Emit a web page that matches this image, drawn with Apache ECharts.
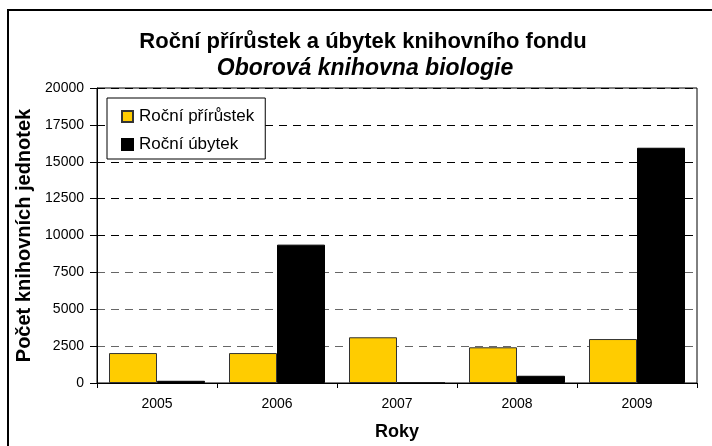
<!DOCTYPE html>
<html>
<head>
<meta charset="utf-8">
<script src="https://cdn.jsdelivr.net/npm/echarts@6/dist/echarts.min.js"></script>
<style>
  html, body { margin: 0; padding: 0; background: #fff; }
  #chart { width: 712px; height: 446px; }
</style>
</head>
<body>
<div id="chart"></div>
<script>
const years = ['2005', '2006', '2007', '2008', '2009'];
const prirustek = [2030, 2030, 3100, 2420, 2980];
const ubytek = [150, 9380, 0, 490, 15950];

const chart = echarts.init(document.getElementById('chart'));
const font = 'Arial, "Liberation Sans", sans-serif';

chart.setOption({
  backgroundColor: '#fff',
  animation: false,
  textStyle: { fontFamily: font },
  title: [
    {
      text: 'Roční přírůstek a úbytek knihovního fondu',
      left: 358,
      textAlign: 'center',
      top: 26,
      textStyle: { fontSize: 22, fontWeight: 'bold', color: '#000', fontFamily: font }
    },
    {
      text: 'Oborová knihovna biologie',
      left: 360,
      textAlign: 'center',
      top: 52,
      textStyle: { fontSize: 23, fontWeight: 'bold', fontStyle: 'italic', color: '#000', fontFamily: font }
    }
  ],
  graphic: [{
    type: 'rect',
    shape: { x: 8, y: 10, width: 720, height: 460 },
    style: { fill: 'none', stroke: '#000', lineWidth: 2 },
    z: 100
  }],
  legend: {
    orient: 'vertical',
    left: 107,
    top: 98,
    padding: [10, 11, 6, 14],
    itemGap: 11,
    itemWidth: 11,
    itemHeight: 11,
    icon: 'rect',
    borderColor: '#000',
    borderWidth: 1,
    backgroundColor: '#fff',
    textStyle: { fontSize: 17, color: '#000', fontFamily: font, padding: [0, 0, 0, 1] }
  },
  grid: {
    left: 97,
    right: 15,
    top: 88,
    bottom: 61,
    show: true,
    borderColor: '#000',
    borderWidth: 1
  },
  xAxis: {
    type: 'category',
    data: years,
    name: 'Roky',
    nameLocation: 'middle',
    nameGap: 40,
    nameTextStyle: { fontSize: 18, fontWeight: 'bold', color: '#000' },
    axisLine: { lineStyle: { color: '#000', width: 1 } },
    axisTick: { show: true, length: 5, lineStyle: { color: '#000' } },
    axisLabel: { fontSize: 14, color: '#000', margin: 14 }
  },
  yAxis: {
    type: 'value',
    min: 0,
    max: 20000,
    interval: 2500,
    name: 'Počet knihovních jednotek',
    nameLocation: 'middle',
    nameGap: 63,
    nameTextStyle: { fontSize: 20, fontWeight: 'bold', color: '#000' },
    axisLine: { show: true, lineStyle: { color: '#000', width: 1 } },
    axisTick: { show: true, length: 7, lineStyle: { color: '#000' } },
    axisLabel: { fontSize: 14, color: '#000', margin: 13, formatter: v => String(v) },
    splitLine: {
      show: true,
      lineStyle: {
        color: ['#000', '#666', '#666', '#666', '#000', '#000', '#000', '#000', '#000'],
        type: [8, 6],
        width: 1
      }
    }
  },
  series: [
    {
      name: 'Roční přírůstek',
      type: 'bar',
      data: prirustek,
      barGap: '0%',
      barCategoryGap: '20%',
      itemStyle: { color: '#FFCC00', borderColor: '#333', borderWidth: 1 }
    },
    {
      name: 'Roční úbytek',
      type: 'bar',
      data: ubytek,
      itemStyle: { color: '#000', borderColor: '#000', borderWidth: 1 }
    }
  ]
});
</script>
</body>
</html>
